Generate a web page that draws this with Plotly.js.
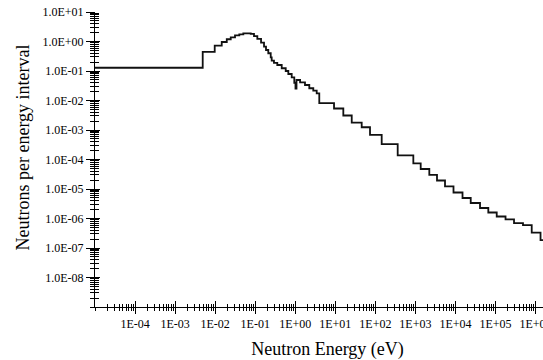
<!DOCTYPE html>
<html>
<head>
<meta charset="utf-8">
<script src="https://cdn.plot.ly/plotly-3.0.1.min.js"></script>
<style>
html,body{margin:0;padding:0;overflow:hidden;background:#fff;}
#chart{width:565px;height:360px;}
</style>
</head>
<body>
<div id="chart"></div>
<script>
// Bin edges (eV) and neutrons per energy interval for each bin
const binEdges = [1e-5, 4.89e-3, 9.75e-3, 0.0146, 0.0195, 0.0245, 0.0313, 0.0401, 0.0505, 0.0773,
  0.0933, 0.113, 0.140, 0.166, 0.186, 0.212, 0.244, 0.258, 0.294, 0.356,
  0.459, 0.578, 0.671, 0.815, 0.946, 1.013, 1.074, 1.32, 1.75, 2.24,
  2.82, 3.43, 3.98, 9.29, 15.85, 25.7, 45.6, 73.5, 143.9, 361,
  887, 1355, 2223, 3459, 5483, 8933, 15000, 24040, 41020, 66070,
  107150, 177800, 289700, 485300, 801700, 1.33e6, 4.0e6];
const binValues = [0.129, 0.448, 0.73, 0.96, 1.19, 1.39, 1.62, 1.75, 1.90, 1.80,
  1.53, 1.22, 0.91, 0.67, 0.515, 0.40, 0.29, 0.224, 0.19, 0.16,
  0.124, 0.10, 0.079, 0.061, 0.040, 0.0255, 0.0495, 0.0414, 0.0335, 0.026,
  0.0215, 0.0175, 0.0082, 0.00536, 0.0031, 0.00177, 0.00124, 6.8e-4, 3.3e-4, 1.39e-4,
  7.4e-5, 4.76e-5, 3.03e-5, 1.94e-5, 1.22e-5, 7.6e-6, 4.95e-6, 3.35e-6, 2.27e-6, 1.6e-6,
  1.17e-6, 9.4e-7, 7.0e-7, 6.0e-7, 3.3e-7, 1.86e-7];

const xTickVals = [1e-4, 1e-3, 1e-2, 1e-1, 1e0, 1e1, 1e2, 1e3, 1e4, 1e5, 1e6];
const xTickText = ['1E-04','1E-03','1E-02','1E-01','1E+00','1E+01','1E+02','1E+03','1E+04','1E+05','1E+06'];
const yTickVals = [1e1, 1e0, 1e-1, 1e-2, 1e-3, 1e-4, 1e-5, 1e-6, 1e-7, 1e-8];
const yTickText = ['1.0E+01','1.0E+00','1.0E-01','1.0E-02','1.0E-03','1.0E-04','1.0E-05','1.0E-06','1.0E-07','1.0E-08'];

const xTitle = 'Neutron Energy (eV)';
const yTitle = 'Neutrons per energy interval';

// step trace: repeat last value at the final edge
const yStep = binValues.concat([binValues[binValues.length - 1]]);

function minorVals(lo, hi) {
  const out = [];
  for (let d = lo; d < hi; d++) {
    for (let m = 1; m <= 10; m++) out.push(m * Math.pow(10, d));
  }
  return out;
}
const xMinor = minorVals(-5, 7);
const yMinor = minorVals(-9, 1);

const FONT = 'Liberation Serif, Times New Roman, serif';
const tickFont = {family: FONT, size: 12, color: '#000'};

const xRange = [-5, 6.61];
const yRange = [-9, 1];

const traces = [
  {x: binEdges, y: yStep, type: 'scatter', mode: 'lines', line: {shape: 'hv', color: '#111', width: 1.8},
   hoverinfo: 'skip', showlegend: false},
  {x: binEdges, y: yStep, type: 'scatter', mode: 'lines', xaxis: 'x2', yaxis: 'y2',
   line: {color: 'rgba(0,0,0,0)', width: 0}, hoverinfo: 'skip', showlegend: false}
];

const layout = {
  width: 565, height: 360,
  margin: {l: 95, r: 5, t: 12, b: 53},
  paper_bgcolor: '#fff', plot_bgcolor: '#fff',
  showlegend: false,
  font: {family: FONT, color: '#000'},
  xaxis: {
    type: 'log', range: xRange, showgrid: false, zeroline: false,
    showline: true, linecolor: '#000', linewidth: 1,
    ticks: 'outside', ticklen: 6, tickwidth: 1, tickcolor: '#000',
    tickmode: 'array', tickvals: xTickVals, ticktext: xTickText, tickfont: tickFont,
    minor: {ticks: 'outside', ticklen: 3, tickwidth: 1, tickcolor: '#000', tickmode: 'array', tickvals: xMinor, showgrid: false},
    title: {text: xTitle, font: {family: FONT, size: 18, color: '#000'}, standoff: 11}
  },
  yaxis: {
    type: 'log', range: yRange, showgrid: false, zeroline: false,
    showline: true, linecolor: '#000', linewidth: 1,
    ticks: 'outside', ticklen: 8, tickwidth: 1, tickcolor: '#000',
    tickmode: 'array', tickvals: yTickVals, ticktext: yTickText, tickfont: tickFont,
    minor: {ticks: 'outside', ticklen: 4, tickwidth: 1, tickcolor: '#000', tickmode: 'array', tickvals: yMinor, showgrid: false}
  },
  xaxis2: {
    type: 'log', range: xRange, overlaying: 'x', anchor: 'y2', side: 'bottom',
    showgrid: false, zeroline: false, showline: false, showticklabels: false,
    ticks: 'inside', ticklen: 6, tickwidth: 1, tickcolor: '#000',
    tickmode: 'array', tickvals: xTickVals,
    minor: {ticks: 'inside', ticklen: 3, tickwidth: 1, tickcolor: '#000', tickmode: 'array', tickvals: xMinor, showgrid: false}
  },
  yaxis2: {
    type: 'log', range: yRange, overlaying: 'y', anchor: 'x2', side: 'left',
    showgrid: false, zeroline: false, showline: false, showticklabels: false,
    ticks: 'inside', ticklen: 5, tickwidth: 1, tickcolor: '#000',
    tickmode: 'array', tickvals: yTickVals,
    minor: {ticks: 'inside', ticklen: 4, tickwidth: 1, tickcolor: '#000', tickmode: 'array', tickvals: yMinor, showgrid: false}
  },
  annotations: [
    {text: yTitle, textangle: -90, xref: 'paper', yref: 'paper',
     x: (22 - 95) / 465, y: (307 - 147.5) / 295, xanchor: 'center', yanchor: 'middle',
     showarrow: false, font: {family: FONT, size: 18, color: '#000'}}
  ]
};

Plotly.newPlot('chart', traces, layout, {staticPlot: true, displayModeBar: false});
</script>
</body>
</html>
